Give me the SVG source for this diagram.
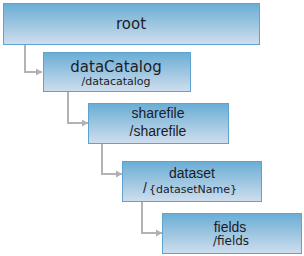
<svg xmlns="http://www.w3.org/2000/svg" width="304" height="256" viewBox="0 0 304 256">
<defs>
<linearGradient id="g" x1="0" y1="0" x2="0" y2="1">
<stop offset="0" stop-color="#6aadd5"/>
<stop offset="1" stop-color="#cfdeed"/>
</linearGradient>
<marker id="arr" markerUnits="userSpaceOnUse" markerWidth="8" markerHeight="8" refX="7" refY="4" orient="auto">
<path d="M1,0.5 L7,4 L1,7.5 Z" fill="#b0b0b0"/>
</marker>
<clipPath id="c1"><rect x="43" y="52" width="148" height="35"/></clipPath>
<style>
.box{fill:url(#g);stroke:#5ea3cf;stroke-width:1}
.con{fill:none;stroke:#b3b3b3;stroke-width:2;marker-end:url(#arr)}
.v{font-family:"DejaVu Sans",Verdana,sans-serif;fill:#1c1c28;text-anchor:middle}
.a{font-family:"Liberation Sans",Arial,sans-serif;fill:#1c1c28;text-anchor:middle}
</style>
</defs>
<g id="connectors">
<path class="con" d="M25,45 V72 H42"/>
<path class="con" d="M68,92 V123 H88"/>
<path class="con" d="M102,144 V174 H122"/>
<path class="con" d="M142,202 V233 H162"/>
</g>
<g id="root">
<rect class="box" x="3.5" y="3.5" width="256" height="41"/>
<text class="v" x="131" y="29" font-size="15">root</text>
</g>
<g id="dataCatalog">
<rect class="box" x="43.5" y="52.5" width="147" height="39"/>
<text class="v" x="116" y="72" font-size="15">dataCatalog</text>
<text class="v" x="116" y="85" font-size="11" clip-path="url(#c1)">/datacatalog</text>
</g>
<g id="sharefile">
<rect class="box" x="88.5" y="103.5" width="140" height="40"/>
<text class="a" x="158" y="118" font-size="14">sharefile</text>
<text class="a" x="158" y="136" font-size="14">/sharefile</text>
</g>
<g id="dataset">
<rect class="box" x="122.5" y="161.5" width="139" height="40"/>
<text class="a" x="192" y="178" font-size="14">dataset</text>
<text class="a" x="190" y="193" font-size="14">/<tspan class="v" dx="2" font-size="11">{datasetName}</tspan></text>
</g>
<g id="fields">
<rect class="box" x="162.5" y="213.5" width="139" height="40"/>
<text class="a" x="230" y="232" font-size="14">fields</text>
<text class="v" x="231" y="245" font-size="12">/fields</text>
</g>
</svg>
